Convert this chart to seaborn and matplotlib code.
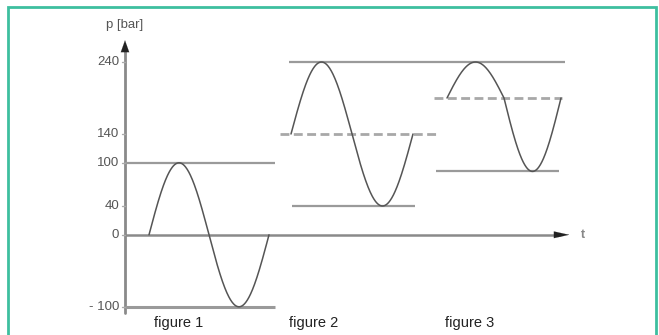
import numpy as np
import pandas as pd
import matplotlib
matplotlib.use("Agg")
import matplotlib.pyplot as plt
import seaborn as sns
from matplotlib.patches import Rectangle

sns.set_theme(style="white")
plt.rcParams['font.family'] = ['Liberation Sans', 'DejaVu Sans']

# ---- data (pressure in bar, time in arbitrary units) ----
ytick_values = [240, 140, 100, 40, 0, -100]
ytick_labels = ["240", "140", "100", "40", "0", "- 100"]
fig_labels = ["figure 1", "figure 2", "figure 3"]
fig_label_pos = [0.535, 1.89, 3.45]

# wave parameters per figure: start, end time, mean, upper and lower extremes
wave_start = [0.24, 1.66, 3.22]
wave_end = [1.44, 2.88, 4.36]
wave_mean = [0, 140, 190]
wave_max = [100, 240, 240]
wave_min = [-100, 40, 88]

# reference lines: (value, x-start, x-end)
solid_vals = [100, -100, 240, 40, 88]
solid_x0 = [0.0, 0.0, 1.64, 1.67, 3.11]
solid_x1 = [1.50, 1.50, 4.40, 2.90, 4.34]
dashed_vals = [140, 190]
dashed_x0 = [1.55, 3.09]
dashed_x1 = [3.11, 4.37]

# ---- build wave table ----
rows = []
for i in range(3):
    t = np.linspace(wave_start[i], wave_end[i], 300)
    ph = (t - wave_start[i]) / (wave_end[i] - wave_start[i]) * 2 * np.pi
    s = np.sin(ph)
    up = wave_max[i] - wave_mean[i]
    lo = wave_mean[i] - wave_min[i]
    y = wave_mean[i] + np.where(s >= 0, s * up, s * lo)
    for a, b in zip(t, y):
        rows.append((a, b, fig_labels[i]))
df = pd.DataFrame(rows, columns=["t", "p", "figure"])

fig = plt.figure(figsize=(6.59, 3.35), dpi=100)
ax = fig.add_axes([0, 0, 1, 1])
ax.set_xlim(-1.25, 5.34)
ax.set_ylim(-(335 - 234.8) / 0.72, 234.8 / 0.72)
ax.axis("off")

# frame border
fig.patches.append(Rectangle((7.5 / 659, -0.01), (656 - 7.5) / 659, (335 - 7.0) / 335 + 0.01,
                             transform=fig.transFigure, fill=False,
                             edgecolor="#3dbf9f", linewidth=2))

# reference lines
for v, a, b in zip(solid_vals, solid_x0, solid_x1):
    lw = 2.2 if v == -100 else 1.6
    ax.hlines(v, a, b, color="#9a9a9a", linewidth=lw, zorder=2)
for v, a, b in zip(dashed_vals, dashed_x0, dashed_x1):
    ax.hlines(v, a, b, color="#a8a8a8", linewidth=2.0, linestyles=(0, (3.2, 1.6)), zorder=2)

# waves
sns.lineplot(data=df, x="t", y="p", units="figure", estimator=None,
             color="#555555", linewidth=1.1, ax=ax, zorder=3, sort=False)

# axes with arrows
ax.plot([0, 0], [-108, 262], color="#8a8a8a", linewidth=2, zorder=1)
ax.annotate("", xy=(0, 274), xytext=(0, 257),
            arrowprops=dict(arrowstyle="-|>,head_width=0.25,head_length=0.7",
                            color="#222222", lw=0.1))
ax.plot([0, 4.35], [0, 0], color="#8a8a8a", linewidth=1.8, zorder=1)
ax.annotate("", xy=(4.47, 0), xytext=(4.30, 0),
            arrowprops=dict(arrowstyle="-|>,head_width=0.2,head_length=0.9",
                            color="#222222", lw=0.1))
ax.text(4.58, 0, "t", ha="center", va="center", fontsize=9, color="#888888",
        fontweight="bold")
ax.text(0, 292, "p [bar]", ha="center", va="center", fontsize=9.5, color="#555555")

# y ticks
for v, lab in zip(ytick_values, ytick_labels):
    ax.plot([-0.035, 0], [v, v], color="#aaaaaa", linewidth=1)
    ax.text(-0.06, v, lab, ha="right", va="center", fontsize=9.5, color="#555555")

# figure labels
for x, lab in zip(fig_label_pos, fig_labels):
    ax.text(x, -122, lab, ha="center", va="center", fontsize=10.5, color="#222222")

fig.savefig("out.png", dpi=100)
